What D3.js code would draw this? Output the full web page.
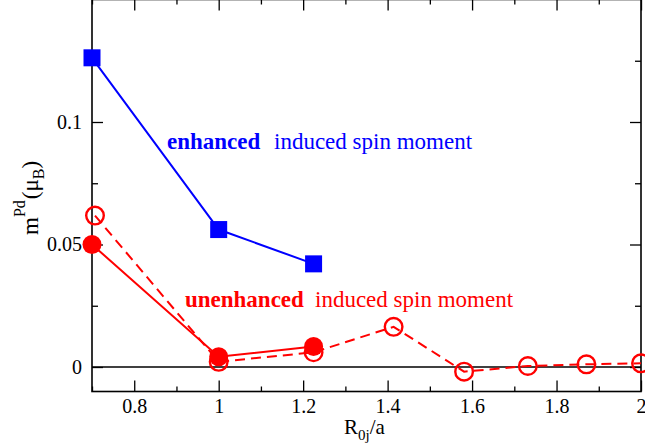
<!DOCTYPE html>
<html><head><meta charset="utf-8">
<script src="https://cdn.jsdelivr.net/npm/d3@7"></script>
</head><body style="margin:0;background:#fff"><svg id="c" width="645" height="448" style="display:block"></svg>
<script>
// data
const xEnh = [0.70, 1.0, 1.2247];
const yEnh = [0.1262, 0.0561, 0.0421];
const xUnFilled = [0.70, 1.0, 1.2247];
const yUnFilled = [0.0500, 0.0042, 0.0084];
const xUnOpen = [0.7071, 1.0, 1.2247, 1.4142, 1.5811, 1.7321, 1.8708, 2.0];
const yUnOpen = [0.0618, 0.0021, 0.0060, 0.0164, -0.0019, 0.0004, 0.0011, 0.0015];
const xMajor = [0.8, 1.0, 1.2, 1.4, 1.6, 1.8, 2.0];
const xMajorLabels = ["0.8", "1", "1.2", "1.4", "1.6", "1.8", "2"];
const xMinor = [0.7, 0.9, 1.1, 1.3, 1.5, 1.7, 1.9];
const yMajor = [0, 0.05, 0.1];
const yMajorLabels = ["0", "0.05", "0.1"];
const yMinor = [0.025, 0.075, 0.125];

const FONT = "Liberation Serif";
const svg = d3.select("#c");
const L = 92, R = 641, T = -0.5, B = 391.5;
const x = d3.scaleLinear().domain([0.7, 2.0]).range([L, R]);
const y = d3.scaleLinear().domain([-0.01, 0.15]).range([B, T]);

function styleAxis(sel){
  sel.attr("font-family", FONT).attr("font-size", 20);
  sel.selectAll("path").remove();
  sel.selectAll("line").attr("stroke","#000").attr("stroke-width",1.3);
  sel.selectAll("text").attr("fill","#000");
}
svg.append("g").attr("transform",`translate(0,${B})`)
  .call(d3.axisBottom(x).tickValues(xMajor).tickSize(-11).tickPadding(7)
    .tickFormat((d,i)=>xMajorLabels[i])).call(styleAxis);
svg.append("g").attr("transform",`translate(0,${B})`)
  .call(d3.axisBottom(x).tickValues(xMinor).tickSize(-5).tickFormat("")).call(styleAxis);
svg.append("g").attr("transform",`translate(0,${T})`)
  .call(d3.axisTop(x).tickValues(xMajor).tickSize(-11).tickFormat("")).call(styleAxis);
svg.append("g").attr("transform",`translate(0,${T})`)
  .call(d3.axisTop(x).tickValues(xMinor).tickSize(-5).tickFormat("")).call(styleAxis);
svg.append("g").attr("transform",`translate(${L},0)`)
  .call(d3.axisLeft(y).tickValues(yMajor).tickSize(-11).tickPadding(10)
    .tickFormat((d,i)=>yMajorLabels[i])).call(styleAxis);
svg.append("g").attr("transform",`translate(${L},0)`)
  .call(d3.axisLeft(y).tickValues(yMinor).tickSize(-6).tickFormat("")).call(styleAxis);
svg.append("g").attr("transform",`translate(${R},0)`)
  .call(d3.axisRight(y).tickValues(yMajor).tickSize(-11).tickFormat("")).call(styleAxis);
svg.append("g").attr("transform",`translate(${R},0)`)
  .call(d3.axisRight(y).tickValues(yMinor).tickSize(-6).tickFormat("")).call(styleAxis);

svg.append("rect").attr("x",L).attr("y",T).attr("width",R-L).attr("height",B-T)
  .attr("fill","none").attr("stroke","#000").attr("stroke-width",1.6);
svg.append("line").attr("x1",L).attr("x2",R).attr("y1",y(0)).attr("y2",y(0))
  .attr("stroke","#000").attr("stroke-width",1.6);

const line = d3.line().x(d=>x(d[0])).y(d=>y(d[1]));
const open = xUnOpen.map((v,i)=>[v,yUnOpen[i]]);
const filled = xUnFilled.map((v,i)=>[v,yUnFilled[i]]);
const enh = xEnh.map((v,i)=>[v,yEnh[i]]);

svg.append("path").attr("d",line(open)).attr("fill","none").attr("stroke","#ff0000")
  .attr("stroke-width",2).attr("stroke-dasharray","10,6");
svg.selectAll("circle.o").data(open).join("circle").attr("class","o")
  .attr("cx",d=>x(d[0])).attr("cy",d=>y(d[1])).attr("r",8.8)
  .attr("fill","none").attr("stroke","#ff0000").attr("stroke-width",2.4);
svg.append("path").attr("d",line(filled)).attr("fill","none").attr("stroke","#ff0000").attr("stroke-width",2);
svg.selectAll("circle.f").data(filled).join("circle").attr("class","f")
  .attr("cx",d=>x(d[0])).attr("cy",d=>y(d[1])).attr("r",9.5).attr("fill","#ff0000");
svg.append("path").attr("d",line(enh)).attr("fill","none").attr("stroke","#0000ff").attr("stroke-width",2);
svg.selectAll("rect.s").data(enh).join("rect").attr("class","s")
  .attr("x",d=>x(d[0])-8.5).attr("y",d=>y(d[1])-8.5).attr("width",17).attr("height",17).attr("fill","#0000ff");

function txt(xp, yp, size, bold, color, s){
  const t = svg.append("text").attr("x",xp).attr("y",yp).attr("font-family",FONT)
    .attr("font-size",size).attr("fill",color).text(s);
  if (bold) t.attr("font-weight","bold");
  return t;
}
txt(167,149,23,true,"#0000ff","enhanced");
txt(274,149,23,false,"#0000ff","induced spin moment");
txt(185,307,23,true,"#ff0000","unenhanced");
txt(315,307,23,false,"#ff0000","induced spin moment");

const xl = svg.append("text").attr("x",344).attr("y",434).attr("font-family",FONT).attr("font-size",21).attr("fill","#000");
xl.append("tspan").text("R");
xl.append("tspan").attr("font-size",15).attr("dy",6).text("0j");
xl.append("tspan").attr("dy",-6).text("/a");

const yl = svg.append("text").attr("transform","translate(38,235) rotate(-90)").attr("font-family",FONT).attr("font-size",23).attr("fill","#000");
yl.append("tspan").text("m");
yl.append("tspan").attr("font-size",16).attr("dy",-13).text("Pd");
yl.append("tspan").attr("dy",13).attr("dx",1).text("(\u03bc");
yl.append("tspan").attr("font-size",16).attr("dy",6).text("B");
yl.append("tspan").attr("dy",-6).text(")");
</script></body></html>
